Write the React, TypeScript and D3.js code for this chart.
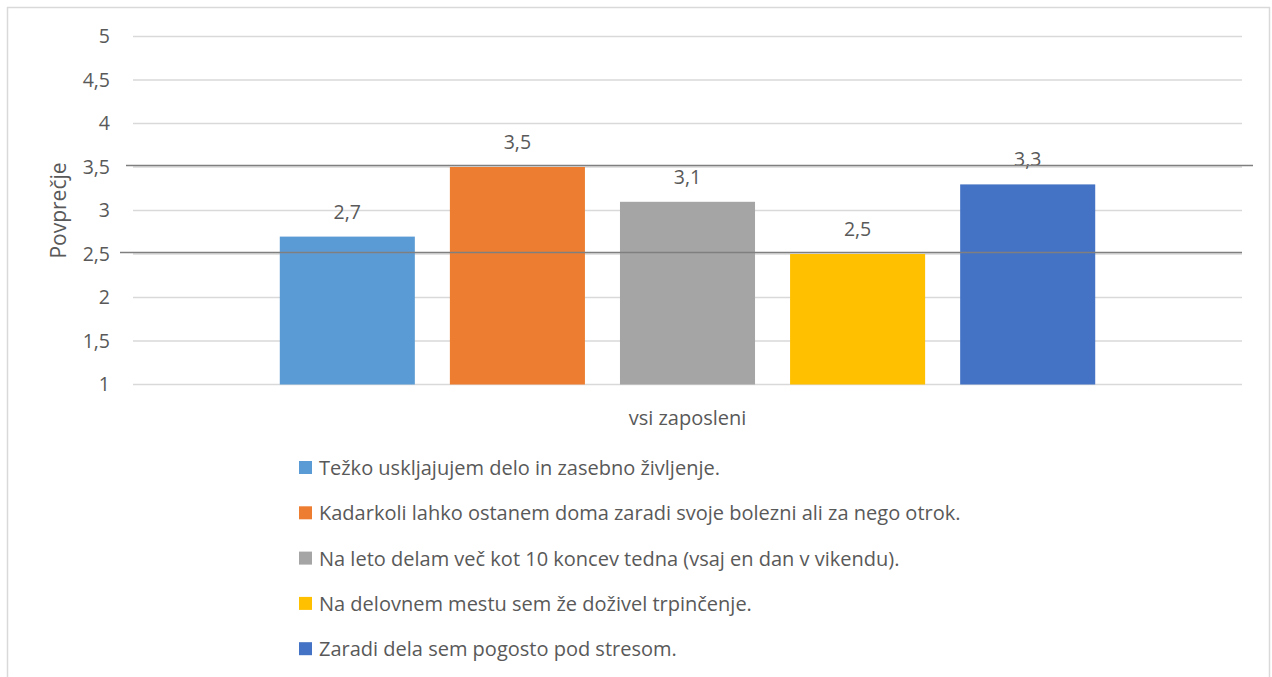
import React from 'react'
import * as d3 from 'd3'

const categories = ['vsi zaposleni']
const seriesNames = [
  'Težko uskljajujem delo in zasebno življenje.',
  'Kadarkoli lahko ostanem doma zaradi svoje bolezni ali za nego otrok.',
  'Na leto delam več kot 10 koncev tedna (vsaj en dan v vikendu).',
  'Na delovnem mestu sem že doživel trpinčenje.',
  'Zaradi dela sem pogosto pod stresom.',
]
const seriesValues = [2.7, 3.5, 3.1, 2.5, 3.3]
const seriesColors = ['#5B9BD5', '#ED7D31', '#A5A5A5', '#FFC000', '#4472C4']
const yTicks = [1, 1.5, 2, 2.5, 3, 3.5, 4, 4.5, 5]
const refLines = [3.5, 2.5]

const W = 1272
const H = 677
const fontFam = '"Open Sans", "Noto Sans", sans-serif'
const txt = '#595959'

export default function App() {
  // plot area
  const left = 133
  const right = 1242
  const top = 36.5
  const bottom = 384.5

  const y = d3.scaleLinear().domain([1, 5]).range([bottom, top])
  const x0 = d3.scaleBand().domain(categories).range([left, right]).paddingInner(0).paddingOuter(0.18)
  const x1 = d3.scaleBand()
    .domain(seriesNames)
    .range([0, x0.bandwidth()])
    .paddingInner(0.206)
    .paddingOuter(0)
  const fmt = (v: number) => String(v).replace('.', ',')

  return (
    <svg width={W} height={H} style={{ position: 'absolute', left: 0, top: 0, background: '#fff' }}
      fontFamily={fontFam}>
      <rect x={7.5} y={7.5} width={1262} height={700} fill="#fff" stroke="#D9D9D9" strokeWidth={1.5} />

      {/* gridlines */}
      {yTicks.map(t => (
        <line key={t} x1={left} x2={right} y1={y(t)} y2={y(t)} stroke="#D9D9D9" strokeWidth={1.3} />
      ))}

      {/* tick labels */}
      {yTicks.map(t => (
        <text key={'l' + t} x={110} y={y(t)} dy="0.35em" textAnchor="end" fontSize={19.5} fill={txt}>
          {fmt(t)}
        </text>
      ))}

      <text transform={`translate(66,${(top + bottom) / 2}) rotate(-90)`} textAnchor="middle"
        fontSize={21} fill={txt}>Povprečje</text>

      {/* bars */}
      {categories.map(c => (
        <g key={c} transform={`translate(${x0(c)},0)`}>
          {seriesNames.map((s, i) => (
            <g key={s}>
              <rect x={x1(s)} y={y(seriesValues[i])} width={x1.bandwidth()}
                height={bottom - y(seriesValues[i])} fill={seriesColors[i]} />
              <text x={(x1(s) as number) + x1.bandwidth() / 2} y={y(seriesValues[i]) - 18}
                textAnchor="middle" fontSize={19.5} fill={txt}>{fmt(seriesValues[i])}</text>
            </g>
          ))}
          <text x={x0.bandwidth() / 2} y={425} textAnchor="middle" fontSize={20} fill={txt}>{c}</text>
        </g>
      ))}

      {/* darker reference lines */}
      {refLines.map((v, i) => (
        <line key={'r' + v} x1={i === 0 ? 126 : 120} x2={i === 0 ? 1253 : 1242}
          y1={y(v) - 1.5} y2={y(v) - 1.5} stroke="#7F7F7F" strokeWidth={1.5} />
      ))}

      {/* legend */}
      {seriesNames.map((s, i) => (
        <g key={'lg' + i} transform={`translate(299,${468 + i * 45.3})`}>
          <rect x={0} y={-7} width={13} height={13} fill={seriesColors[i]} />
          <text x={20} y={0} dy="0.35em" fontSize={20} fill={txt}>{s}</text>
        </g>
      ))}
    </svg>
  )
}
